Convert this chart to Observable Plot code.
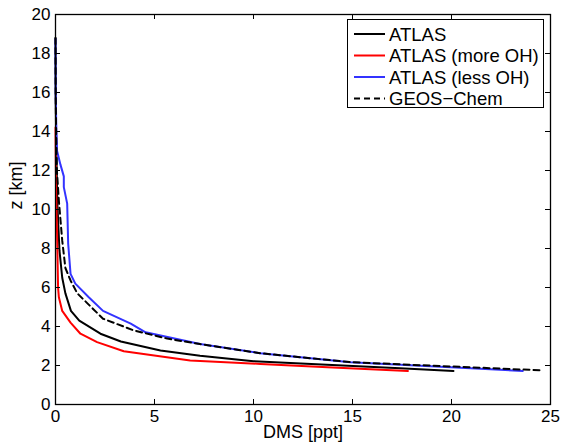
<!DOCTYPE html>
<html>
<head>
<meta charset="utf-8">
<script src="https://cdn.jsdelivr.net/npm/d3@7"></script>
<script src="https://cdn.jsdelivr.net/npm/@observablehq/plot@0.6"></script>
<style>
  html, body { margin: 0; padding: 0; background: #fff; }
  #wrap { position: relative; width: 563px; height: 448px; font-family: "Liberation Sans", Arial, sans-serif; }
  #legend { position: absolute; left: 347px; top: 19px; width: 195px; height: 87px; border: 1px solid #000; background: #fff; }
  #legend svg { display: block; overflow: visible; }
</style>
</head>
<body>
<div id="wrap"><div id="legend"></div></div>
<script>
// Series: altitude z [km] and DMS [ppt]
const atlasZ   = [18.8, 16, 14, 12, 10.4, 7.9, 6.5, 5.7, 4.8, 4.3, 3.63, 3.23, 2.77, 2.5, 2.22, 1.86, 1.72];
const atlasX   = [0, 0.01, 0.03, 0.06, 0.09, 0.2, 0.34, 0.5, 0.78, 1.2, 2.27, 3.3, 5.3, 7.3, 10.0, 17.4, 20.1];

const moreOHZ  = [14.2, 12, 10, 8.7, 6, 5.5, 4.8, 4.2, 3.63, 3.2, 2.73, 2.26, 2.08, 1.9, 1.72];
const moreOHX  = [0, 0.02, 0.05, 0.08, 0.13, 0.17, 0.34, 0.76, 1.26, 2.1, 3.45, 6.8, 10.35, 14.0, 17.8];

const lessOHZ  = [18.75, 16, 14.2, 13.0, 12.3, 11.7, 11.15, 10.3, 8.25, 6.7, 6.2, 5.5, 4.8, 4.15, 3.7, 3.1, 2.63, 2.17, 1.91, 1.72];
const lessOHX  = [0, 0.01, 0.04, 0.08, 0.25, 0.42, 0.42, 0.59, 0.64, 0.76, 1.0, 1.68, 2.4, 3.8, 4.55, 7.3, 10.35, 14.9, 19.95, 23.6];

const geosZ    = [18.8, 16, 14, 12, 10.45, 8.4, 7.0, 6.36, 5.7, 5.2, 4.4, 3.8, 3.38, 3.1, 2.63, 2.17, 1.95, 1.75];
const geosX    = [0, 0.01, 0.03, 0.07, 0.17, 0.34, 0.5, 0.76, 1.1, 1.6, 2.4, 3.95, 5.64, 7.3, 10.35, 14.9, 19.95, 24.6];

const seriesNames = ["ATLAS", "ATLAS (more OH)", "ATLAS (less OH)", "GEOS\u2212Chem"];
const xTicks = [0, 5, 10, 15, 20, 25];
const yTicks = [0, 2, 4, 6, 8, 10, 12, 14, 16, 18, 20];
const xLabel = "DMS [ppt]";
const yLabel = "z [km]";

const toRows = (xs, zs) => xs.map((x, i) => ({x, z: zs[i]}));
const atlas = toRows(atlasX, atlasZ);
const moreOH = toRows(moreOHX, moreOHZ);
const lessOH = toRows(lessOHX, lessOHZ);
const geos = toRows(geosX, geosZ);

const styles = [
  {stroke: "#000000", dash: null},
  {stroke: "#ff0000", dash: null},
  {stroke: "#3333ff", dash: null},
  {stroke: "#000000", dash: "6,4"}
];

const W = 563, H = 448, mL = 55, mR = 13, mT = 14, mB = 44, tick = 5;
const frameW = W - mL - mR, frameH = H - mT - mB;

const chart = Plot.plot({
  width: W,
  height: H,
  marginLeft: mL,
  marginRight: mR,
  marginTop: mT,
  marginBottom: mB,
  style: {fontFamily: "Liberation Sans, Arial, sans-serif", fontSize: "16px", color: "#000", background: "#fff"},
  x: {domain: [0, 25], label: null},
  y: {domain: [0, 20], label: null},
  marks: [
    Plot.line(atlas, {x: "x", y: "z", stroke: styles[0].stroke, strokeWidth: 2}),
    Plot.line(moreOH, {x: "x", y: "z", stroke: styles[1].stroke, strokeWidth: 2}),
    Plot.line(lessOH, {x: "x", y: "z", stroke: styles[2].stroke, strokeWidth: 2}),
    Plot.line(geos, {x: "x", y: "z", stroke: styles[3].stroke, strokeWidth: 2, strokeDasharray: styles[3].dash}),
    // inward ticks on all four sides (MATLAB box style)
    Plot.tickX(xTicks, {x: d => d, insetTop: frameH - tick, stroke: "#000"}),
    Plot.tickX(xTicks, {x: d => d, insetBottom: frameH - tick, stroke: "#000"}),
    Plot.tickY(yTicks, {y: d => d, insetRight: frameW - tick, stroke: "#000"}),
    Plot.tickY(yTicks, {y: d => d, insetLeft: frameW - tick, stroke: "#000"}),
    Plot.axisX({ticks: xTicks, tickSize: 0, tickPadding: 5, label: null, fontSize: 17}),
    Plot.axisY({ticks: yTicks, tickSize: 0, tickPadding: 5, label: null, fontSize: 17}),
    Plot.frame({stroke: "#000", strokeWidth: 1.3}),
    Plot.text([xLabel], {frameAnchor: "bottom", dy: 33, fontSize: 18, fill: "#000"}),
    Plot.text([yLabel], {frameAnchor: "left", dx: -39, rotate: -90, fontSize: 18, fill: "#000"})
  ]
});

const wrap = document.getElementById("wrap");
wrap.insertBefore(chart, wrap.firstChild);

// Legend
const leg = d3.select("#legend").append("svg").attr("width", 195).attr("height", 87);
const rowY = [14, 35.5, 57, 78.5];
seriesNames.forEach((name, i) => {
  leg.append("line")
    .attr("x1", 6).attr("x2", 37).attr("y1", rowY[i]).attr("y2", rowY[i])
    .attr("stroke", styles[i].stroke).attr("stroke-width", 2)
    .attr("stroke-dasharray", styles[i].dash);
  leg.append("text")
    .attr("x", 41).attr("y", rowY[i]).attr("dy", "0.36em")
    .attr("font-family", "Liberation Sans, Arial, sans-serif")
    .attr("font-size", 18.5).attr("fill", "#000")
    .text(name);
});
</script>
</body>
</html>
